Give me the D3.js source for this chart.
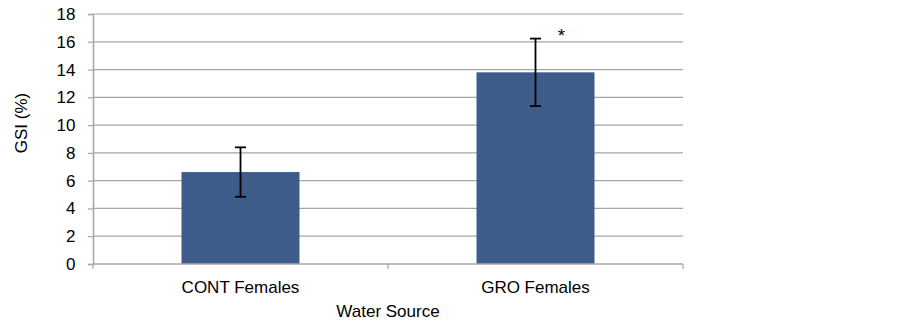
<!DOCTYPE html>
<html><head><meta charset="utf-8">
<script src="https://cdn.jsdelivr.net/npm/d3@7"></script>
<style>body{margin:0;background:#fff}svg{display:block}text{font-family:"Liberation Sans",Arial,sans-serif}</style>
</head><body>
<svg id="c" width="902" height="327"></svg>
<script>
const categories = ["CONT Females", "GRO Females"];
const values = [6.62, 13.8];
const errors = [1.78, 2.43];
const significance = ["", "*"];
const yTicks = [0, 2, 4, 6, 8, 10, 12, 14, 16, 18];
const xTitle = "Water Source";
const yTitle = "GSI (%)";

const svg = d3.select("#c");
const m = {l: 93, r: 219, t: 14, b: 63};
const W = 902 - m.l - m.r, H = 327 - m.t - m.b;
const g = svg.append("g").attr("transform", `translate(${m.l},${m.t})`);
const x = d3.scaleBand().domain(categories).range([0, W]).paddingInner(0.6).paddingOuter(0.3);
const xb = d3.scaleBand().domain(categories).range([0, W]);
const y = d3.scaleLinear().domain([0, 18]).range([H, 0]);
const grey = "#a6a6a6";
const FS = 17;

// gridlines
g.selectAll(".grid").data(yTicks.filter(d => d > 0)).join("line")
  .attr("x1", 0).attr("x2", W).attr("y1", d => y(d)).attr("y2", d => y(d))
  .attr("stroke", grey).attr("stroke-width", 1.2);

// bars
g.selectAll(".bar").data(values).join("rect")
  .attr("x", (d, i) => x(categories[i])).attr("width", x.bandwidth())
  .attr("y", d => y(d)).attr("height", d => H - y(d))
  .attr("fill", "#3e5c8a");

// error bars
const eb = g.selectAll(".eb").data(values).join("g")
  .attr("transform", (d, i) => `translate(${x(categories[i]) + x.bandwidth() / 2},0)`);
eb.append("line").attr("y1", (d, i) => y(d + errors[i])).attr("y2", (d, i) => y(d - errors[i]))
  .attr("stroke", "#000").attr("stroke-width", 1.8);
eb.append("line").attr("x1", -5.5).attr("x2", 5.5).attr("y1", (d, i) => y(d + errors[i])).attr("y2", (d, i) => y(d + errors[i]))
  .attr("stroke", "#000").attr("stroke-width", 1.8);
eb.append("line").attr("x1", -5.5).attr("x2", 5.5).attr("y1", (d, i) => y(d - errors[i])).attr("y2", (d, i) => y(d - errors[i]))
  .attr("stroke", "#000").attr("stroke-width", 1.8);
eb.append("text").text((d, i) => significance[i])
  .attr("x", 26).attr("y", (d, i) => y(d + errors[i]) + 3)
  .attr("text-anchor", "middle").attr("font-size", 19);

// y axis
const ya = g.append("g").call(d3.axisLeft(y).tickValues(yTicks).tickSize(5).tickPadding(12.5));
ya.attr("font-family", null).attr("font-size", null);
ya.select(".domain").attr("stroke", grey).attr("stroke-width", 1.5);
ya.selectAll(".tick line").attr("stroke", grey).attr("stroke-width", 1.2);
ya.selectAll("text").attr("font-size", FS).attr("fill", "#000");

// x axis
const xa = g.append("g").attr("transform", `translate(0,${H})`);
xa.append("line").attr("x1", 0).attr("x2", W).attr("stroke", grey).attr("stroke-width", 1.5);
xa.selectAll(".tk").data([0, xb.bandwidth(), W]).join("line")
  .attr("x1", d => d).attr("x2", d => d).attr("y1", 0).attr("y2", 5).attr("stroke", grey).attr("stroke-width", 1.2);
xa.selectAll(".lbl").data(categories).join("text")
  .attr("x", d => xb(d) + xb.bandwidth() / 2).attr("y", 29)
  .attr("text-anchor", "middle").attr("font-size", FS).text(d => d);

svg.append("text").attr("x", m.l + W / 2).attr("y", 317).attr("text-anchor", "middle")
  .attr("font-size", FS).text(xTitle);
svg.append("text").attr("transform", `translate(27,123) rotate(-90)`)
  .attr("text-anchor", "middle").attr("font-size", FS).text(yTitle);
</script>
</body></html>
